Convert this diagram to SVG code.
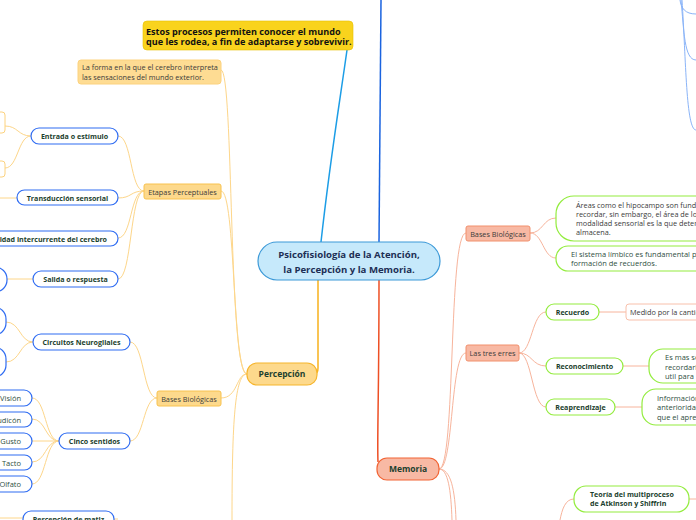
<svg xmlns="http://www.w3.org/2000/svg" width="696" height="520" viewBox="0 0 696 520">
<defs>
<style>
text{font-family:"Open Sans","Noto Sans","DejaVu Sans",sans-serif;}
.t{font-size:7.3px;fill:#3b3b3b;}
.b{font-size:7.1px;font-weight:bold;fill:#1c3f2e;}
.n{font-size:7.5px;fill:#2f4f42;}
.pl{fill:none;stroke:#fdd68a;stroke-width:1;}
.ml{fill:none;stroke:#f7b49c;stroke-width:1;}
.bl{fill:none;stroke:#8ab4f8;stroke-width:1;}
.blue{fill:#fff;stroke:#2f6cf2;stroke-width:1.2;}
.green{fill:#fff;stroke:#93ec3e;stroke-width:1.2;}
.or{fill:#fdd98c;stroke:#f8c24e;stroke-width:1;}
.sal{fill:#f8b9a4;stroke:#f1906c;stroke-width:1;}
</style>
</defs>
<rect width="696" height="520" fill="#fff"/>
<g id="connectors">
<path d="M321,242 C330,160 340,100 347,50" fill="none" stroke="#1c9de6" stroke-width="1.5"/>
<path d="M379,242 L381,0" fill="none" stroke="#1a63df" stroke-width="1.5"/>
<path d="M379,280 C379,400 377,440 378,462" fill="none" stroke="#ee4f24" stroke-width="1.5"/>
<path d="M318,280 L318,368 Q318,374 314,374" fill="none" stroke="#f8b11c" stroke-width="1.5"/>
<path class="bl" d="M680,0 C681,8 685,14 696,14"/>
<path class="bl" d="M681,0 C684,30 684,60 696,60"/>
<path class="bl" d="M682,0 C686,60 686,130 696,130"/>
<path class="pl" d="M247,374 C228,374 234,70 221,70"/>
<path class="pl" d="M247,374 C232,374 236,191 221,191"/>
<path class="pl" d="M247,374 C236,374 238,398 221,398"/>
<path class="pl" d="M247,374 C235,374 232,420 232,520"/>
<path class="pl" d="M144,191 C130,191 132,136 118,136"/>
<path class="pl" d="M144,191 C130,191 132,198 118,198"/>
<path class="pl" d="M144,191 C130,191 132,238 118,238"/>
<path class="pl" d="M144,191 C130,191 132,279 118,279"/>
<path class="pl" d="M31,136 C18,136 18,126 5,126"/>
<path class="pl" d="M31,136 C18,136 18,168 5,168"/>
<path class="pl" d="M17,198 L0,198"/>
<path class="pl" d="M33,279 L7,279"/>
<path class="pl" d="M157,398 C143,398 144,342 130,342"/>
<path class="pl" d="M157,398 C143,398 144,441 130,441"/>
<path class="pl" d="M33,342 C20,342 20,322 6,322"/>
<path class="pl" d="M33,342 C20,342 20,362 6,362"/>
<path class="pl" d="M59,441 C45,441 46,398 32,398"/>
<path class="pl" d="M59,441 C45,441 46,419 32,419"/>
<path class="pl" d="M59,441 L32,441"/>
<path class="pl" d="M59,441 C45,441 46,462 32,462"/>
<path class="pl" d="M59,441 C45,441 46,484 32,484"/>
<path class="pl" d="M23,518 L0,518"/>
<path class="pl" d="M114,519 L118,519"/>
<path class="ml" d="M439,469 C456,469 448,233 466,233"/>
<path class="ml" d="M439,469 C454,469 450,353 466,353"/>
<path class="ml" d="M439,469 C448,469 451,490 452,520"/>
<path class="ml" d="M439,469 C451,469 455,490 456,520"/>
<path class="ml" d="M530,233 C543,233 543,218 556,218"/>
<path class="ml" d="M530,233 C543,233 543,258 556,258"/>
<path class="ml" d="M519,353 C532,353 532,312 546,312"/>
<path class="ml" d="M519,353 C532,353 532,366 546,366"/>
<path class="ml" d="M519,353 C532,353 532,407 546,407"/>
<path class="ml" d="M599,312 L626,312"/>
<path class="ml" d="M623,366 L649,366"/>
<path class="ml" d="M615,407 L642,407"/>
<path class="ml" d="M574,499 C565,499 562,510 560,520"/>
<path class="ml" d="M689,499 L696,499"/>
</g>
<g id="central">
<rect x="258" y="242" width="182" height="38" rx="19" fill="#c6e9fb" stroke="#3d9ad8" stroke-width="1.2"/>
<text x="349" y="258" text-anchor="middle" style="font-size:9.6px;font-weight:bold;fill:#1d2f55">Psicofisiología de la Atención,</text>
<text x="349" y="273" text-anchor="middle" style="font-size:9.6px;font-weight:bold;fill:#1d2f55">la Percepción y la Memoria.</text>
</g>
<g id="estos">
<rect x="143" y="21" width="210" height="29" rx="4" fill="#f9d31d" stroke="#e6c000" stroke-width="0.6"/>
<text x="146" y="34.5" style="font-size:9.1px;font-weight:bold;fill:#111">Estos procesos permiten conocer el mundo</text>
<text x="146" y="45" style="font-size:9.1px;font-weight:bold;fill:#111">que les rodea, a fin de adaptarse y sobrevivir.</text>
</g>
<g id="percepcion">
<rect x="247" y="363" width="70" height="22" rx="10" fill="#fdd98c" stroke="#f6b52c" stroke-width="1.2"/>
<text x="282" y="377" text-anchor="middle" style="font-size:8.5px;font-weight:bold;fill:#1c3f2e">Percepción</text>
</g>
<g id="la-forma">
<rect x="78" y="60" width="143" height="24" rx="3" fill="#fedc93" stroke="#fcd27e" stroke-width="1"/>
<text class="t" x="82" y="70">La forma en la que el cerebro interpreta</text>
<text class="t" x="82" y="80">las sensaciones del mundo exterior.</text>
</g>
<g id="etapas">
<rect class="or" x="144" y="184" width="77" height="15" rx="2"/>
<text class="t" x="182.5" y="194.5" text-anchor="middle">Etapas Perceptuales</text>
</g>
<g id="entrada">
<rect class="blue" x="31" y="128" width="87" height="16" rx="8"/>
<text class="b" x="74.5" y="139" text-anchor="middle">Entrada o estímulo</text>
</g>
<g id="entrada-1"><rect x="-40" y="112" width="45" height="21" rx="3" fill="#fff" stroke="#fcd27e"/></g>
<g id="entrada-2"><rect x="-40" y="161" width="45" height="16" rx="3" fill="#fff" stroke="#fcd27e"/></g>
<g id="transduccion">
<rect class="blue" x="17" y="190" width="101" height="15" rx="7.5"/>
<text class="b" x="67.5" y="200.5" text-anchor="middle">Transducción sensorial</text>
</g>
<g id="actividad">
<rect class="blue" x="-30" y="231" width="148" height="15" rx="7.5"/>
<text class="b" x="107" y="241.5" text-anchor="end">Actividad intercurrente del cerebro</text>
</g>
<g id="salida">
<rect class="blue" x="33" y="271" width="85" height="16" rx="8"/>
<text class="b" x="75.5" y="282" text-anchor="middle">Salida o respuesta</text>
</g>
<g id="salida-1"><rect class="blue" x="-40" y="267" width="47" height="25" rx="12"/></g>
<g id="bases-percepcion">
<rect class="or" x="157" y="391" width="64" height="15" rx="2"/>
<text class="t" x="189" y="401.5" text-anchor="middle">Bases Biológicas</text>
</g>
<g id="circuitos">
<rect class="blue" x="33" y="334" width="97" height="16" rx="8"/>
<text class="b" x="81.5" y="345" text-anchor="middle">Circuitos Neurogliales</text>
</g>
<g id="circuitos-1"><rect class="blue" x="-40" y="307" width="46" height="28" rx="12"/></g>
<g id="circuitos-2"><rect class="blue" x="-40" y="347" width="46" height="30" rx="12"/></g>
<g id="cinco">
<rect class="blue" x="59" y="433" width="71" height="16" rx="8"/>
<text class="b" x="94.5" y="444" text-anchor="middle">Cinco sentidos</text>
</g>
<g id="vision"><rect class="blue" x="-20" y="390" width="52" height="16" rx="8"/><text class="n" x="21" y="401" text-anchor="end">Visión</text></g>
<g id="audicion"><rect class="blue" x="-20" y="412" width="52" height="15" rx="7.5"/><text class="n" x="21" y="422.5" text-anchor="end">Audicón</text></g>
<g id="gusto"><rect class="blue" x="-20" y="433" width="52" height="16" rx="8"/><text class="n" x="21" y="444" text-anchor="end">Gusto</text></g>
<g id="tacto"><rect class="blue" x="-20" y="455" width="52" height="15" rx="7.5"/><text class="n" x="21" y="465.5" text-anchor="end">Tacto</text></g>
<g id="olfato"><rect class="blue" x="-20" y="476" width="52" height="16" rx="8"/><text class="n" x="21" y="487" text-anchor="end">Olfato</text></g>
<g id="matiz">
<rect class="blue" x="23" y="511" width="91" height="18" rx="8"/>
<text class="b" x="68.5" y="522" text-anchor="middle">Percepción de matiz</text>
</g>
<g id="memoria">
<rect x="377" y="458" width="62" height="22" rx="10" fill="#f8b9a4" stroke="#f26434" stroke-width="1.2"/>
<text x="408" y="472" text-anchor="middle" style="font-size:8.5px;font-weight:bold;fill:#1c3f2e">Memoria</text>
</g>
<g id="bases-memoria">
<rect class="sal" x="466" y="226" width="64" height="15" rx="2"/>
<text class="t" x="498" y="236.5" text-anchor="middle">Bases Biológicas</text>
</g>
<g id="areas">
<rect class="green" x="556" y="196" width="180" height="45" rx="18"/>
<text class="t" x="576" y="208">Áreas como el hipocampo son funda</text>
<text class="t" x="576" y="217">recordar, sin embargo, el área de lo</text>
<text class="t" x="576" y="226">modalidad sensorial es la que deter</text>
<text class="t" x="576" y="235">almacena.</text>
</g>
<g id="limbico">
<rect class="green" x="556" y="246" width="180" height="25" rx="12"/>
<text class="n" x="571" y="257">El sistema límbico es fundamental pa</text>
<text class="n" x="571" y="266">formación de recuerdos.</text>
</g>
<g id="tres-erres">
<rect class="sal" x="466" y="345" width="53" height="16" rx="2"/>
<text class="t" x="492.5" y="356" text-anchor="middle">Las tres erres</text>
</g>
<g id="recuerdo">
<rect class="green" x="546" y="304" width="53" height="16" rx="8"/>
<text class="b" x="572.5" y="315" text-anchor="middle">Recuerdo</text>
</g>
<g id="medido">
<rect x="626" y="304" width="100" height="16" rx="3" fill="#fff" stroke="#f8c0ab" stroke-width="1"/>
<text class="t" x="630" y="315">Medido por la cantidad</text>
</g>
<g id="reconocimiento">
<rect class="green" x="546" y="358" width="77" height="16" rx="8"/>
<text class="b" x="584.5" y="369" text-anchor="middle">Reconocimiento</text>
</g>
<g id="es-mas">
<rect class="green" x="649" y="349" width="100" height="34" rx="14"/>
<text class="n" x="665" y="360">Es mas se</text>
<text class="n" x="665" y="369.5">recordarlo</text>
<text class="n" x="665" y="379">util para r</text>
</g>
<g id="reaprendizaje">
<rect class="green" x="546" y="399" width="69" height="16" rx="8"/>
<text class="b" x="580.5" y="410" text-anchor="middle">Reaprendizaje</text>
</g>
<g id="informacion">
<rect class="green" x="642" y="389" width="100" height="36" rx="14"/>
<text class="n" x="657" y="401">Información</text>
<text class="n" x="657" y="410">anterioridad</text>
<text class="n" x="657" y="420">que el apre</text>
</g>
<g id="teoria">
<rect class="green" x="574" y="486" width="115" height="26" rx="12"/>
<text class="b" x="590" y="497">Teoría del multiproceso</text>
<text class="b" x="590" y="506">de Atkinson y Shiffrin</text>
</g>
</svg>
